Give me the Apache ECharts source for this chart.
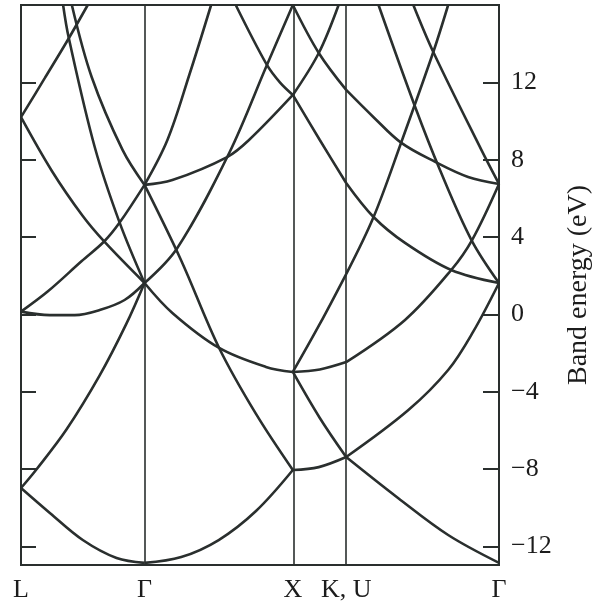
<!DOCTYPE html>
<html>
<head>
<meta charset="utf-8">
<script src="https://cdn.jsdelivr.net/npm/echarts@6.0.0/dist/echarts.min.js"></script>
<style>
  html, body { margin: 0; padding: 0; background: #fff; }
  #chart { width: 601px; height: 606px; }
</style>
</head>
<body>
<div id="chart"></div>
<script>
// symmetry points along the k path (path length units)
const pointLabels = ['L', 'Γ', 'X', 'K, U', 'Γ'];
const pointPos = [0, 0.848, 1.866, 2.232, 3.281];
const energyTicks = [-12, -8, -4, 0, 4, 8, 12];

// bands, one list per path segment: [k, E (eV)]
const bandsLG = [
  [[0, -8.97], [0.198, -10.26], [0.424, -11.66], [0.656, -12.59], [0.848, -12.84]],
  [[0, -8.97], [0.107, -8.0], [0.312, -5.95], [0.54, -3.15], [0.722, -0.5], [0.848, 1.63]],
  [[0, 0.15], [0.198, -0.03], [0.369, -0.03], [0.54, 0.23], [0.711, 0.75], [0.848, 1.63]],
  [[0, 0.15], [0.185, 1.2], [0.415, 2.75], [0.574, 3.8], [0.677, 4.75], [0.848, 6.7]],
  [[0, 10.2], [0.212, 7.42], [0.424, 5.09], [0.574, 3.75], [0.848, 1.63]],
  [[0.289, 16.0], [0.328, 14.29], [0.506, 8.66], [0.677, 4.75], [0.848, 1.63]],
  [[0.349, 16.0], [0.485, 12.28], [0.697, 8.51], [0.848, 6.7]],
  [[0, 10.2], [0.164, 12.23], [0.321, 14.19], [0.458, 16.0]]
];
const bandsGX = [
  [[0.848, -12.84], [1.1, -12.54], [1.357, -11.66], [1.613, -10.16], [1.866, -8.04]],
  [[0.848, 6.7], [1.098, 2.82], [1.36, -1.73], [1.613, -5.14], [1.866, -8.04]],
  [[0.848, 1.63], [1.039, 0.08], [1.36, -1.73], [1.681, -2.71], [1.866, -2.97]],
  [[0.848, 1.63], [1.073, 3.44], [1.429, 8.35], [1.688, 12.9], [1.866, 16.0]],
  [[0.848, 6.7], [1.039, 6.95], [1.415, 8.14], [1.565, 9.02], [1.866, 11.35]],
  [[0.848, 6.7], [1.005, 9.02], [1.155, 12.38], [1.305, 16.0]],
  [[1.474, 16.0], [1.688, 12.9], [1.777, 12.0], [1.866, 11.35]]
];
const bandsXK = [
  [[1.866, -8.04], [2.044, -7.89], [2.232, -7.37]],
  [[1.866, -2.97], [2.051, -5.35], [2.232, -7.37]],
  [[1.866, -2.97], [2.051, -2.84], [2.232, -2.46]],
  [[1.866, -2.97], [2.051, -0.49], [2.232, 2.09]],
  [[1.866, 16.0], [2.044, 13.52], [2.232, 11.61]],
  [[1.866, 11.35], [2.044, 13.52], [2.18, 16.0]],
  [[1.866, 11.35], [2.051, 9.02], [2.232, 6.8]]
];
const bandsKG = [
  [[2.232, -7.37], [2.59, -9.5], [2.932, -11.4], [3.281, -12.84]],
  [[2.232, -7.37], [2.659, -4.94], [2.932, -2.87], [3.103, -0.9], [3.281, 1.63]],
  [[2.232, -2.46], [2.636, -0.28], [2.953, 2.3], [3.096, 3.85], [3.281, 6.75]],
  [[2.232, 6.8], [2.42, 5.04], [2.636, 3.7], [2.953, 2.3], [3.281, 1.63]],
  [[2.232, 11.61], [2.42, 10.2], [2.611, 8.87], [2.843, 7.89], [3.069, 7.11], [3.281, 6.75]],
  [[2.232, 2.09], [2.42, 5.04], [2.611, 8.92], [2.83, 13.57], [2.932, 16.0]],
  [[2.454, 16.0], [2.705, 10.74], [2.876, 7.47], [3.092, 3.85], [3.281, 1.63]],
  [[2.693, 16.0], [2.83, 13.57], [3.16, 8.51], [3.281, 6.75]]
];

const ink = '#2a2f2e';
const textColor = '#1c1c1c';
const serif = "'Liberation Serif', 'Times New Roman', serif";

const labelAt = v => {
  let best = 0;
  pointPos.forEach((p, i) => {
    if (Math.abs(p - v) < Math.abs(pointPos[best] - v)) best = i;
  });
  return pointLabels[best];
};
const energyLabel = v => (v < 0 ? '\u2212' + (-v) : String(v));

const series = [];
[bandsLG, bandsGX, bandsXK, bandsKG].forEach(seg => {
  seg.forEach(pts => {
    series.push({
      type: 'line',
      data: pts,
      smooth: 0.35,
      symbol: 'none',
      silent: true,
      lineStyle: { color: ink, width: 2.6 }
    });
  });
});

// vertical lines at the inner symmetry points
series[0].markLine = {
  symbol: 'none',
  silent: true,
  label: { show: false },
  lineStyle: { color: ink, width: 1.6, type: 'solid' },
  data: pointPos.slice(1, 4).map(v => ({ xAxis: v }))
};

const chart = echarts.init(document.getElementById('chart'));
chart.setOption({
  animation: false,
  backgroundColor: '#fff',
  grid: {
    left: 21, right: 100, top: 5, bottom: 41,
    show: true, borderColor: ink, borderWidth: 2
  },
  xAxis: {
    type: 'value',
    min: 0,
    max: 3.281,
    axisLine: { show: true, onZero: false, lineStyle: { color: ink, width: 2 } },
    axisTick: { show: false },
    splitLine: { show: false },
    axisLabel: {
      customValues: pointPos,
      formatter: labelAt,
      showMinLabel: true,
      showMaxLabel: true,
      color: textColor,
      fontFamily: serif,
      fontSize: 26,
      margin: 12
    }
  },
  yAxis: [
    {
      type: 'value',
      position: 'left',
      min: -12.95,
      max: 16,
      axisLine: { show: true, lineStyle: { color: ink, width: 2 } },
      axisTick: { show: true, inside: true, length: 15, customValues: energyTicks, lineStyle: { color: ink, width: 2 } },
      axisLabel: { show: false },
      splitLine: { show: false }
    },
    {
      type: 'value',
      position: 'right',
      min: -12.95,
      max: 16,
      axisLine: { show: true, lineStyle: { color: ink, width: 2 } },
      axisTick: { show: true, inside: true, length: 16, customValues: energyTicks, lineStyle: { color: ink, width: 2 } },
      axisLabel: {
        customValues: energyTicks,
        formatter: energyLabel,
        color: textColor,
        fontFamily: serif,
        fontSize: 26,
        margin: 12
      },
      splitLine: { show: false },
      name: 'Band energy (eV)',
      nameLocation: 'middle',
      nameRotate: 90,
      nameGap: 66,
      nameTextStyle: { color: textColor, fontFamily: serif, fontSize: 28 }
    }
  ],
  series: series
});
</script>
</body>
</html>
